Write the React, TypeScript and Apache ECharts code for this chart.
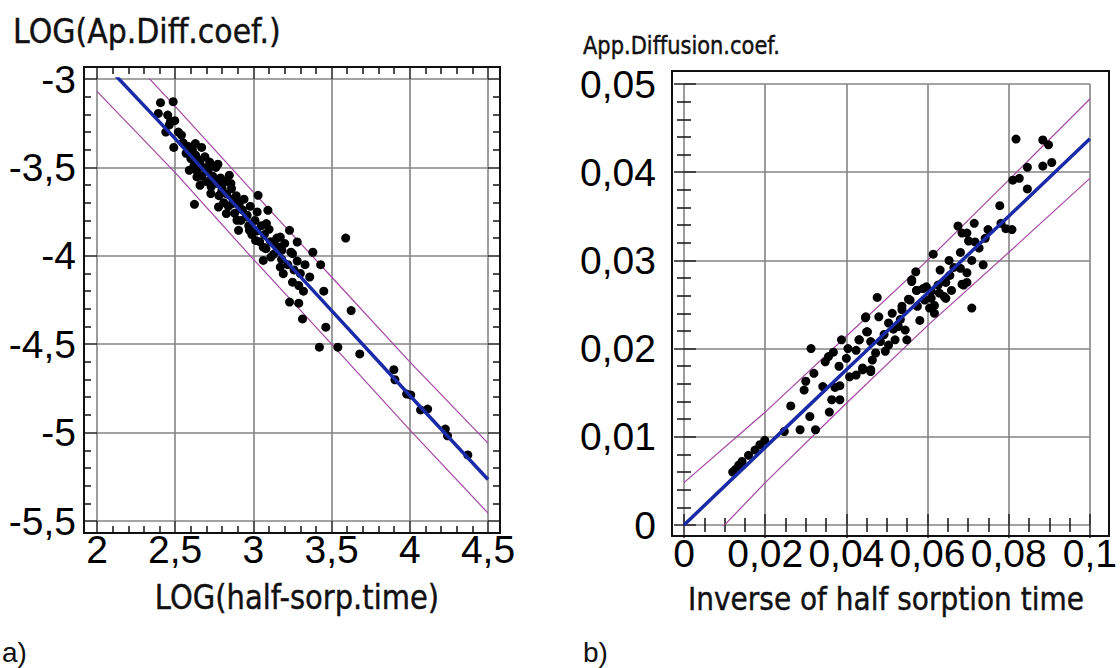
import React, { useEffect, useRef } from "react";
import * as echarts from "echarts";

// ---------- Data: chart a) LOG(half-sorp.time) vs LOG(Ap.Diff.coef.) ----------
const logPoints: [number, number][] = [
  [2.406, -3.134], [2.487, -3.128], [2.392, -3.195], [2.452, -3.204], [2.497, -3.236],
  [2.462, -3.26], [2.54, -3.317], [2.491, -3.387], [2.629, -3.365], [2.669, -3.387],
  [2.773, -3.482], [2.59, -3.516], [2.639, -3.554], [2.708, -3.506], [2.659, -3.601],
  [2.738, -3.573], [2.846, -3.544], [2.856, -3.591], [2.728, -3.648], [2.797, -3.639],
  [2.777, -3.724], [2.623, -3.709], [2.827, -3.761], [2.866, -3.705], [2.915, -3.733],
  [2.895, -3.799], [2.954, -3.78], [2.905, -3.856], [2.975, -3.856], [3.03, -3.658],
  [3.024, -3.752], [3.093, -3.743], [3.083, -3.818], [3.014, -3.913], [3.063, -3.951],
  [3.132, -3.922], [3.172, -3.894], [3.063, -4.026], [3.112, -4.007], [3.182, -3.969],
  [3.231, -3.856], [3.28, -3.922], [3.25, -3.988], [3.172, -4.064], [3.191, -4.101],
  [3.25, -4.149], [3.29, -4.168], [3.231, -4.262], [3.29, -4.268], [3.314, -4.357],
  [3.463, -4.404], [3.625, -4.31], [3.422, -4.517], [3.54, -4.517], [3.68, -4.555],
  [3.898, -4.644], [3.905, -4.701], [3.98, -4.782], [4.006, -4.787], [4.069, -4.872],
  [4.114, -4.867], [4.227, -4.98], [4.241, -5.018], [4.371, -5.126],
  [3.59, -3.9], [3.38, -3.98], [3.43, -4.05], [3.36, -4.12], [3.45, -4.2], [3.32, -4.2],
  [2.44, -3.3], [2.47, -3.24], [2.52, -3.3], [2.55, -3.36], [2.57, -3.42], [2.58, -3.38],
  [2.6, -3.45], [2.61, -3.4], [2.62, -3.49], [2.63, -3.43], [2.64, -3.52], [2.66, -3.46],
  [2.67, -3.55], [2.68, -3.5], [2.69, -3.44], [2.7, -3.58], [2.71, -3.52], [2.72, -3.47],
  [2.73, -3.61], [2.74, -3.55], [2.76, -3.5], [2.77, -3.59], [2.78, -3.66], [2.79, -3.56],
  [2.8, -3.62], [2.81, -3.7], [2.82, -3.58], [2.83, -3.65], [2.84, -3.72], [2.86, -3.62],
  [2.87, -3.68], [2.88, -3.76], [2.89, -3.66], [2.91, -3.7], [2.92, -3.8], [2.93, -3.74],
  [2.94, -3.68], [2.96, -3.77], [2.97, -3.83], [2.98, -3.72], [2.99, -3.88], [3.01, -3.8],
  [3.02, -3.86], [3.04, -3.92], [3.05, -3.83], [3.07, -3.88], [3.08, -3.96], [3.1, -3.85],
  [3.11, -3.92], [3.13, -3.99], [3.15, -3.9], [3.16, -3.95], [3.18, -4.02], [3.2, -3.93],
  [3.22, -4.05], [3.24, -3.98], [3.26, -4.08], [3.28, -4.03], [3.3, -4.1], [3.33, -4.05],
];
const logFit: [number, number][] = [
  [2.0, -2.869], [2.5, -3.337], [3.0, -3.828], [3.25, -4.07], [3.5, -4.31], [4.0, -4.79], [4.5, -5.265],
];
const logUpper: [number, number][] = [
  [2.0, -2.68], [2.5, -3.155], [3.0, -3.64], [3.5, -4.12], [4.0, -4.6], [4.5, -5.06],
];
const logLower: [number, number][] = [
  [2.0, -3.07], [2.5, -3.53], [3.0, -4.02], [3.5, -4.5], [4.0, -4.985], [4.5, -5.455],
];

// ---------- Data: chart b) inverse half sorption time vs App.Diffusion.coef. ----------
const invPoints: [number, number][] = [
  [0.0818, 0.04376], [0.0884, 0.04365], [0.0898, 0.0431], [0.0906, 0.0411], [0.0884, 0.0407],
  [0.0846, 0.04055], [0.0826, 0.0393], [0.081, 0.0391], [0.0846, 0.0381], [0.0778, 0.0362],
  [0.0781, 0.0342], [0.0793, 0.0336], [0.0808, 0.0335], [0.0749, 0.0335], [0.0715, 0.0342],
  [0.0675, 0.0339], [0.0685, 0.0331], [0.0697, 0.0331], [0.0701, 0.0322], [0.0717, 0.0321],
  [0.0614, 0.0307], [0.0681, 0.0309], [0.0653, 0.03], [0.0709, 0.03], [0.0737, 0.0295],
  [0.0681, 0.0291], [0.0697, 0.0286], [0.0631, 0.0289], [0.0571, 0.0287], [0.0561, 0.0278],
  [0.0685, 0.0273], [0.0697, 0.0275], [0.0645, 0.0275], [0.0573, 0.0266], [0.0589, 0.0268],
  [0.0609, 0.0265], [0.0629, 0.0263], [0.0645, 0.0257], [0.0553, 0.0256], [0.0593, 0.0255],
  [0.0617, 0.0249], [0.0537, 0.0248], [0.0476, 0.0258], [0.0709, 0.0246], [0.0605, 0.0246],
  [0.0561, 0.0276], [0.0573, 0.0266], [0.0597, 0.027], [0.0609, 0.0257], [0.0641, 0.0259],
  [0.0689, 0.0272], [0.0617, 0.024], [0.0581, 0.0232], [0.0557, 0.0255], [0.0537, 0.0244],
  [0.0513, 0.024], [0.048, 0.0236], [0.0448, 0.0236], [0.0504, 0.0229], [0.0528, 0.0225],
  [0.0545, 0.0221], [0.0452, 0.0219], [0.0432, 0.021], [0.046, 0.0208], [0.0484, 0.0208],
  [0.0504, 0.0204], [0.052, 0.021], [0.0549, 0.021], [0.0472, 0.0195], [0.0496, 0.0197],
  [0.0464, 0.0187], [0.044, 0.0178], [0.046, 0.0174], [0.0424, 0.017],
  [0.0447, 0.0235], [0.045, 0.0219], [0.0431, 0.021], [0.0388, 0.021], [0.0313, 0.02],
  [0.0368, 0.0196], [0.0356, 0.0191], [0.0404, 0.02], [0.0424, 0.0198], [0.0348, 0.0185],
  [0.04, 0.0189], [0.0382, 0.018], [0.044, 0.0176], [0.046, 0.0176], [0.0408, 0.0168],
  [0.032, 0.0172], [0.03, 0.0163], [0.0296, 0.0153], [0.0342, 0.0157], [0.0372, 0.0156],
  [0.0384, 0.0158], [0.0263, 0.0135], [0.0364, 0.0142], [0.0384, 0.0142], [0.0358, 0.0128],
  [0.031, 0.0123], [0.0286, 0.0108], [0.0324, 0.0108], [0.0247, 0.0106], [0.0199, 0.0096],
  [0.0187, 0.0091], [0.0175, 0.0085], [0.0159, 0.0079], [0.0143, 0.0072], [0.0135, 0.0068],
  [0.012, 0.006], [0.0127, 0.0063],
  [0.0493, 0.0216], [0.0516, 0.0222], [0.0533, 0.0233], [0.0575, 0.0248], [0.0626, 0.0272],
  [0.0655, 0.0283], [0.0665, 0.0292], [0.0727, 0.0314], [0.0742, 0.0325], [0.0659, 0.0266],
];
const invFit: [number, number][] = [
  [0, 0], [0.02, 0.0088], [0.04, 0.0176], [0.06, 0.0263], [0.08, 0.035], [0.1, 0.0438],
];
const invUpper: [number, number][] = [
  [0, 0.0048], [0.02, 0.0128], [0.04, 0.0214], [0.06, 0.03], [0.08, 0.0391], [0.1, 0.0483],
];
const invLower: [number, number][] = [
  [0, -0.0048], [0.02, 0.0048], [0.04, 0.0138], [0.06, 0.0226], [0.08, 0.0309], [0.1, 0.0393],
];

// axis ranges
const aX = { min: 2, max: 4.5, step: 0.5 };
const aY = { min: -5.5, max: -3, step: 0.5 };
const bX = { min: 0, max: 0.1, step: 0.02 };
const bY = { min: 0, max: 0.05, step: 0.01 };

const fmt = (v: number) => String(Math.round(v * 10000) / 10000).replace(".", ",");

const LABEL_FONT = "'Liberation Sans', Arial, sans-serif";
const TITLE_FONT = "DejaVu Sans, Verdana, sans-serif";

function axisPair(
  range: { min: number; max: number; step: number },
  gridIndex: number,
  dir: "x" | "y",
  minorSplit: number,
  pad1: number,
  pad2: number,
  labelMargin: number
) {
  const pos1 = dir === "x" ? "bottom" : "left";
  const pos2 = dir === "x" ? "top" : "right";
  const base = {
    type: "value",
    gridIndex,
    min: range.min,
    max: range.max,
    interval: range.step,
    axisLine: { show: false },
    minorTick: { show: true, splitNumber: minorSplit, length: 7, lineStyle: { color: "#111", width: 1.5 } },
  };
  return [
    {
      ...base,
      position: pos1,
      offset: pad1,
      axisTick: { show: true, inside: true, length: pad1, lineStyle: { color: "#222", width: 1.5 } },
      axisLabel: {
        show: true,
        formatter: fmt,
        color: "#000",
        fontFamily: LABEL_FONT,
        fontSize: 39,
        margin: labelMargin,
      },
      splitLine: { show: true, lineStyle: { color: "#858585", width: 1.6 } },
    },
    {
      ...base,
      position: pos2,
      offset: pad2,
      axisTick: { show: true, inside: true, length: pad2, lineStyle: { color: "#222", width: 1.5 } },
      axisLabel: { show: false },
      splitLine: { show: false },
    },
  ];
}

export default function App() {
  const ref = useRef<HTMLDivElement>(null);
  useEffect(() => {
    if (!ref.current) return;
    const chart = echarts.init(ref.current, undefined, { renderer: "svg" });
    const gA = { left: 97, top: 79, width: 391, height: 442 };
    const gB = { left: 684, top: 84, width: 415, height: 441 };
    const padA = { l: 13, r: 12, t: 12, b: 12 };
    const padB = { l: 12, r: 10, t: 13, b: 11 };
    const scatterStyle = { color: "#000", opacity: 1 };
    const fitStyle = { color: "#1b2aa6", width: 3.5 };
    const bandStyle = { color: "#a646a6", width: 1.2 };
    const mkLine = (data: [number, number][], xi: number, yi: number, style: any, z = 3) => ({
      type: "line",
      xAxisIndex: xi,
      yAxisIndex: yi,
      data,
      showSymbol: false,
      symbol: "none",
      clip: true,
      lineStyle: style,
      z,
      silent: true,
    });
    const title = (text: string, x: number, y: number, size: number, align: string, sy: number) => ({
      type: "text",
      x,
      y,
      scaleY: sy,
      style: {
        text, fontFamily: TITLE_FONT, fontSize: size, fill: "#111", align, verticalAlign: "middle",
        stroke: "#111", lineWidth: 0.4,
      },
    });
    chart.setOption({
      animation: false,
      backgroundColor: "#fff",
      grid: [
        { ...gA, containLabel: false },
        { ...gB, containLabel: false },
      ],
      xAxis: [...axisPair(aX, 0, "x", 5, padA.b, padA.t, -3), ...axisPair(bX, 1, "x", 4, padB.b, padB.t, -2)],
      yAxis: [...axisPair(aY, 0, "y", 5, padA.l, padA.r, 8), ...axisPair(bY, 1, "y", 5, padB.l, padB.r, 16)],
      series: [
        mkLine(logUpper, 0, 0, bandStyle),
        mkLine(logLower, 0, 0, bandStyle),
        { type: "scatter", xAxisIndex: 0, yAxisIndex: 0, data: logPoints, symbolSize: 9, itemStyle: scatterStyle, z: 4 },
        mkLine(logFit, 0, 0, fitStyle, 5),
        mkLine(invUpper, 2, 2, bandStyle),
        mkLine(invLower, 2, 2, bandStyle),
        { type: "scatter", xAxisIndex: 2, yAxisIndex: 2, data: invPoints, symbolSize: 9, itemStyle: scatterStyle, z: 4 },
        mkLine(invFit, 2, 2, fitStyle, 5),
      ],
      graphic: [
        {
          type: "rect",
          shape: { x: gA.left - padA.l, y: gA.top - padA.t, width: gA.width + padA.l + padA.r, height: gA.height + padA.t + padA.b },
          style: { fill: "none", stroke: "#111", lineWidth: 2 },
          z: 10,
          silent: true,
        },
        {
          type: "rect",
          shape: { x: gB.left - padB.l, y: gB.top - padB.t, width: gB.width + padB.l + padB.r, height: gB.height + padB.t + padB.b },
          style: { fill: "none", stroke: "#111", lineWidth: 2 },
          z: 10,
          silent: true,
        },
        title("LOG(Ap.Diff.coef.)", 13, 31, 30, "left", 1.1),
        title("App.Diffusion.coef.", 583, 45, 21, "left", 1.2),
        title("LOG(half-sorp.time)", 297, 597, 29, "center", 1.15),
        title("Inverse of half sorption time", 886, 599, 28, "center", 1.15),
        {
          type: "text", x: 2, y: 652,
          style: { text: "a)", fontFamily: LABEL_FONT, fontSize: 28, fill: "#111", align: "left", verticalAlign: "middle" },
        },
        {
          type: "text", x: 583, y: 652,
          style: { text: "b)", fontFamily: LABEL_FONT, fontSize: 28, fill: "#111", align: "left", verticalAlign: "middle" },
        },
      ],
    });
    return () => chart.dispose();
  }, []);
  return (
    <div
      ref={ref}
      style={{ position: "fixed", left: 0, top: 0, width: 1120, height: 668, background: "#fff" }}
    />
  );
}
